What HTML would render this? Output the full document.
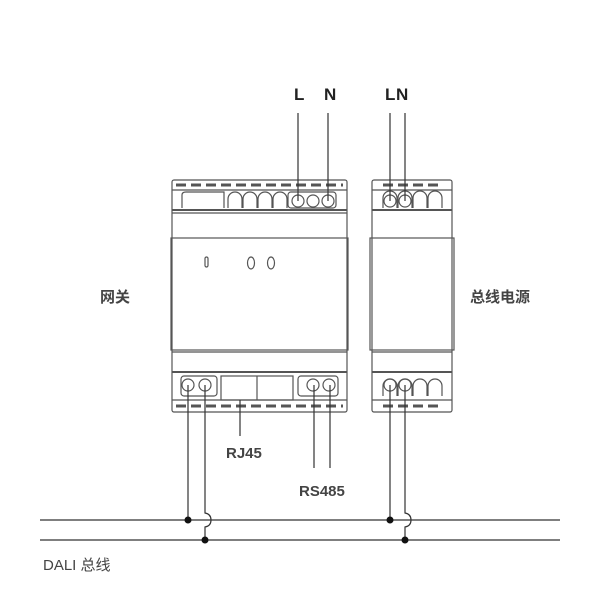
<!DOCTYPE html>
<html><head><meta charset="utf-8"><style>body{margin:0;background:#fff}svg{display:block}</style></head><body>
<svg width="600" height="600" viewBox="0 0 600 600" xmlns="http://www.w3.org/2000/svg" font-family="Liberation Sans, Noto Sans CJK SC, sans-serif">
<g fill="none" stroke="#555" stroke-width="1.2">
<!-- gateway -->
<rect x="172" y="180" width="175" height="232" rx="2"/>
<rect x="171" y="238" width="177" height="112"/>
<line x1="172" y1="190" x2="347" y2="190"/>
<line x1="172" y1="210" x2="347" y2="210" stroke-width="2"/>
<line x1="172" y1="213" x2="347" y2="213"/>
<line x1="172" y1="352" x2="347" y2="352"/>
<line x1="172" y1="372" x2="347" y2="372" stroke-width="2"/>
<line x1="172" y1="400" x2="347" y2="400"/>
<line x1="176" y1="185" x2="343" y2="185" stroke-dasharray="10,5" stroke-width="3"/>
<line x1="176" y1="406" x2="343" y2="406" stroke-dasharray="10,5" stroke-width="3"/>
<path d="M182 208 V195 Q182 192 186 192 H224 V208"/>
<path d="M228 208 V199 A7 7 0 0 1 242 199 V208"/>
<path d="M243 208 V199 A7 7 0 0 1 257 199 V208"/>
<path d="M258 208 V199 A7 7 0 0 1 272 199 V208"/>
<path d="M273 208 V199 A7 7 0 0 1 287 199 V208"/>
<rect x="288" y="192" width="48" height="16" rx="3"/>
<circle cx="298" cy="201" r="6"/><circle cx="313" cy="201" r="6"/><circle cx="328" cy="201" r="6"/>
<rect x="205" y="257" width="3" height="10" rx="1.5"/>
<ellipse cx="251" cy="263" rx="3.5" ry="6"/><ellipse cx="271" cy="263" rx="3.5" ry="6"/>
<rect x="181" y="376" width="36" height="20" rx="3"/>
<circle cx="188" cy="385" r="6"/><circle cx="205" cy="385" r="6"/>
<rect x="221" y="376" width="72" height="24"/>
<line x1="257" y1="376" x2="257" y2="400"/>
<rect x="298" y="376" width="40" height="20" rx="3"/>
<circle cx="313" cy="385" r="6"/><circle cx="329" cy="385" r="6"/>
<!-- power -->
<rect x="372" y="180" width="80" height="232" rx="2"/>
<rect x="370" y="238" width="84" height="112"/>
<line x1="372" y1="190" x2="452" y2="190"/>
<line x1="372" y1="210" x2="452" y2="210" stroke-width="2"/>
<line x1="372" y1="352" x2="452" y2="352"/>
<line x1="372" y1="372" x2="452" y2="372" stroke-width="2"/>
<line x1="372" y1="400" x2="452" y2="400"/>
<line x1="383" y1="185" x2="443" y2="185" stroke-dasharray="10,5" stroke-width="3"/>
<line x1="383" y1="406" x2="443" y2="406" stroke-dasharray="10,5" stroke-width="3"/>
<path d="M383 208 V198 A7 7 0 0 1 397 198 V208"/>
<path d="M398 208 V198 A7 7 0 0 1 412 198 V208"/>
<path d="M413 208 V198 A7 7 0 0 1 427 198 V208"/>
<path d="M428 208 V198 A7 7 0 0 1 442 198 V208"/>
<circle cx="390" cy="201" r="6"/><circle cx="405" cy="201" r="6"/>
<path d="M383 396 V386 A7 7 0 0 1 397 386 V396"/>
<path d="M398 396 V386 A7 7 0 0 1 412 386 V396"/>
<path d="M413 396 V386 A7 7 0 0 1 427 386 V396"/>
<path d="M428 396 V386 A7 7 0 0 1 442 386 V396"/>
<circle cx="390" cy="385" r="6"/><circle cx="405" cy="385" r="6"/>
</g>
<g fill="none" stroke="#333" stroke-width="1.2">
<line x1="298" y1="113" x2="298" y2="201"/>
<line x1="328" y1="113" x2="328" y2="201"/>
<line x1="390" y1="113" x2="390" y2="201"/>
<line x1="405" y1="113" x2="405" y2="201"/>
<line x1="40" y1="520" x2="560" y2="520"/>
<line x1="40" y1="540" x2="560" y2="540"/>
<line x1="188" y1="385" x2="188" y2="520"/>
<path d="M205 385 V513 Q211 514 211 520 Q211 526 205 527 V540"/>
<line x1="390" y1="385" x2="390" y2="520"/>
<path d="M405 385 V513 Q411 514 411 520 Q411 526 405 527 V540"/>
<line x1="240" y1="400" x2="240" y2="436"/>
<line x1="314" y1="385" x2="314" y2="468"/>
<line x1="330" y1="385" x2="330" y2="468"/>
</g>
<g fill="#111"><circle cx="188" cy="520" r="3.5"/><circle cx="205" cy="540" r="3.5"/><circle cx="390" cy="520" r="3.5"/><circle cx="405" cy="540" r="3.5"/></g>
<g fill="#222" font-weight="bold" font-size="17">
<text x="294" y="100">L</text><text x="324" y="100">N</text>
<text x="385" y="100">L</text><text x="396" y="100">N</text>
</g>
<g fill="#444" font-weight="bold" font-size="15">
<text x="226" y="458">RJ45</text>
<text x="299" y="496">RS485</text>
<text x="100" y="302">网关</text>
<text x="470" y="302">总线电源</text>
</g>
<text x="43" y="570" fill="#444" font-size="15">DALI 总线</text>
</svg>
</body></html>
